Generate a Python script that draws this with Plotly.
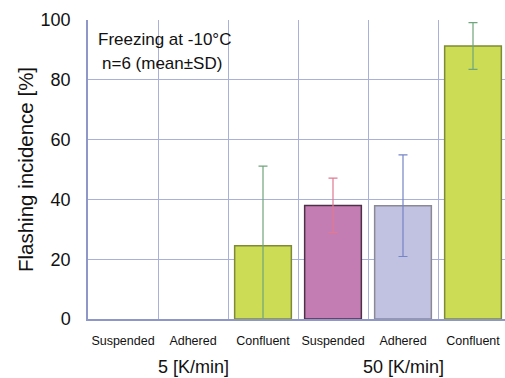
import plotly.graph_objects as go

categories = ["Suspended", "Adhered", "Confluent", "Suspended", "Adhered", "Confluent"]
groups = ["5 [K/min]", "50 [K/min]"]
means = [0, 0, 24.5, 38.0, 37.9, 91.3]
sds = [0, 0, 26.6, 9.1, 17.0, 7.8]
fill_colors = ["#CCDC55", "#CCDC55", "#CCDC55", "#C47DB3", "#C1C1E1", "#CCDC55"]
line_colors = ["#7E8A35", "#7E8A35", "#7E8A35", "#4E3048", "#8A8A96", "#7E8A35"]
err_colors = ["#6FA57C", "#6FA57C", "#6FA57C", "#E07A92", "#7585C6", "#6FA57C"]
yticks = [0, 20, 40, 60, 80, 100]

grid = "#A9B0DA"
fig = go.Figure()
xs = list(range(len(categories)))
for i in xs:
    if means[i] <= 0:
        continue
    fig.add_trace(go.Bar(
        x=[i], y=[means[i]], width=0.81,
        marker=dict(color=fill_colors[i], line=dict(color=line_colors[i], width=1.5)),
        error_y=dict(type="data", array=[sds[i]], color=err_colors[i], thickness=1.2, width=4.5),
        showlegend=False,
    ))

fig.update_layout(
    width=505, height=378,
    margin=dict(l=88, r=0, t=20, b=59, autoexpand=False),
    plot_bgcolor="white", paper_bgcolor="white",
    font=dict(family="Liberation Sans, Arial, sans-serif", color="#111"),
    barmode="overlay",
)
fig.update_xaxes(
    range=[-0.5, 5.5 - 3 / 70], automargin=False,
    tickvals=xs, ticktext=categories, tickfont=dict(size=12.5),
    showgrid=False, ticks="", ticklabelstandoff=9,
    showline=True, linecolor="#8F96C8", linewidth=1.5,
    minor=dict(tickvals=[x - 0.5 for x in xs], showgrid=True, gridcolor=grid, gridwidth=1),
    zeroline=False,
)
fig.update_yaxes(
    range=[0, 100], tickvals=yticks, tickfont=dict(size=18), automargin=False,
    showgrid=True, gridcolor=grid, gridwidth=1,
    showline=True, linecolor="#8F96C8", linewidth=1.5,
    ticks="", ticklabelstandoff=12, zeroline=False,
    title=dict(text="Flashing incidence [%]", font=dict(size=20.5), standoff=1),
)

fig.add_annotation(x=1, y=-0.159, xref="x", yref="paper", text=groups[0],
                   showarrow=False, font=dict(size=18), yanchor="middle")
fig.add_annotation(x=4, y=-0.159, xref="x", yref="paper", text=groups[1],
                   showarrow=False, font=dict(size=18), yanchor="middle")
fig.add_annotation(x=-0.39, y=0.935, xref="x", yref="paper", text="Freezing at -10°C",
                   showarrow=False, font=dict(size=17), xanchor="left", yanchor="middle")
fig.add_annotation(x=-0.33, y=0.855, xref="x", yref="paper", text="n=6 (mean±SD)",
                   showarrow=False, font=dict(size=17), xanchor="left", yanchor="middle")

fig.write_html(
    "out.html",
    config={"displayModeBar": False},
    post_script="document.body.style.margin='0';document.body.style.overflow='hidden';",
)
